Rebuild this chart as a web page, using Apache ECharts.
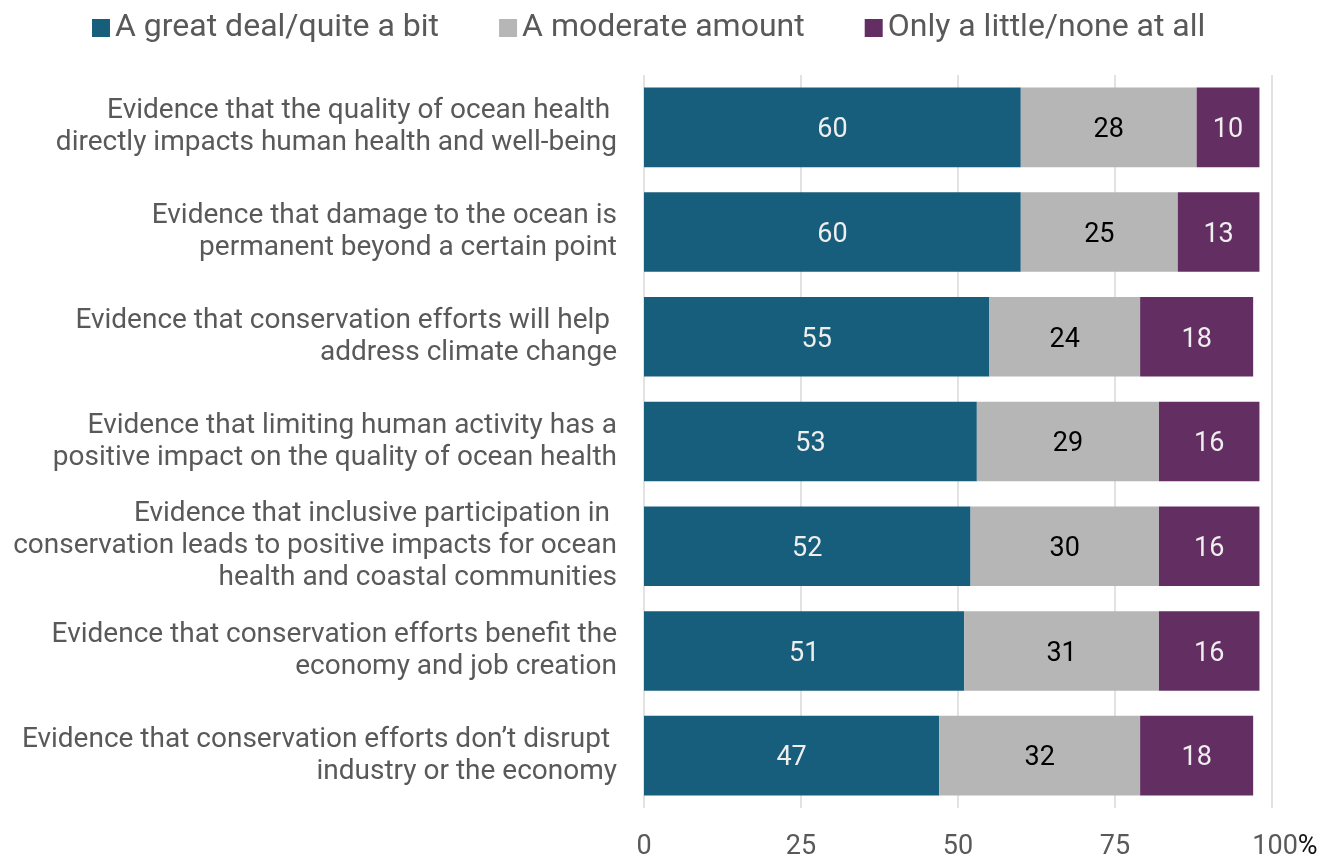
<!DOCTYPE html>
<html>
<head>
<meta charset="utf-8">
<script src="https://cdn.jsdelivr.net/npm/echarts@6/dist/echarts.min.js"></script>
<style>
  html, body { margin: 0; padding: 0; background: #fff; }
  #chart { width: 1335px; height: 856px; }
</style>
</head>
<body>
<div id="chart"></div>
<script>
const categories = [
  "Evidence that the quality of ocean health \ndirectly impacts human health and well-being",
  "Evidence that damage to the ocean is\npermanent beyond a certain point",
  "Evidence that conservation efforts will help \naddress climate change",
  "Evidence that limiting human activity has a\npositive impact on the quality of ocean health",
  "Evidence that inclusive participation in \nconservation leads to positive impacts for ocean\nhealth and coastal communities",
  "Evidence that conservation efforts benefit the\neconomy and job creation",
  "Evidence that conservation efforts don\u2019t disrupt \nindustry or the economy"
]
const greatDeal = [60, 60, 55, 53, 52, 51, 47]
const moderate = [28, 25, 24, 29, 30, 31, 32]
const little = [10, 13, 18, 16, 16, 16, 18]
const tickLabels = { 0: "0", 25: "25", 50: "50", 75: "75", 100: "{n|100}{p|%}" }

const chart = echarts.init(document.getElementById("chart"))

const font = "Roboto, 'Noto Sans', sans-serif"

function barSeries(name, data, color, labelColor) {
  return {
    name: name,
    type: "bar",
    stack: "total",
    data: data,
    barWidth: "76%",
    itemStyle: { color: color },
    label: {
      show: true,
      position: "inside",
      offset: [0, 3],
      color: labelColor,
      fontSize: 27,
      fontFamily: font,
    },
  }
}

const option = {
  backgroundColor: "#fff",
  animation: false,
  textStyle: { fontFamily: font },
  legend: {
    left: 87,
    top: 7,
    itemWidth: 18,
    itemHeight: 18,
    itemGap: 60,
    icon: "rect",
    textStyle: {
      color: "#595959",
      fontSize: 32,
      fontFamily: font,
      padding: [0, 0, 0, 0],
    },
    data: ["A great deal/quite a bit", "A moderate amount", "Only a little/none at all"],
  },
  grid: {
    left: 644,
    right: 63,
    top: 75,
    bottom: 48,
    containLabel: false,
    outerBoundsMode: "none",
  },
  xAxis: {
    type: "value",
    min: 0,
    max: 100,
    interval: 25,
    axisLine: { show: false },
    axisTick: { show: false },
    splitLine: { lineStyle: { color: "#d9d9d9", width: 1.5 } },
    axisLabel: {
      color: "#595959",
      fontSize: 27,
      fontFamily: font,
      margin: 26,
      formatter: (v) => tickLabels[v],
      rich: {
        n: {
          color: "#595959",
          fontSize: 27,
          fontFamily: font,
          padding: [0, 0, 0, 26],
        },
        p: {
          color: "#111111",
          fontSize: 27,
          fontFamily: font,
        },
      },
    },
  },
  yAxis: {
    type: "category",
    inverse: true,
    data: categories,
    axisLine: { show: false },
    axisTick: { show: false },
    axisLabel: {
      color: "#595959",
      fontSize: 28,
      lineHeight: 32,
      fontFamily: font,
      margin: 27,
      align: "right",
      padding: [6, 0, 0, 0],
    },
  },
  series: [
    barSeries("A great deal/quite a bit", greatDeal, "#175e7c", "#eeeeee"),
    barSeries("A moderate amount", moderate, "#b6b6b6", "#000000"),
    barSeries("Only a little/none at all", little, "#632f63", "#eeeeee"),
  ],
}

chart.setOption(option)
</script>
</body>
</html>
